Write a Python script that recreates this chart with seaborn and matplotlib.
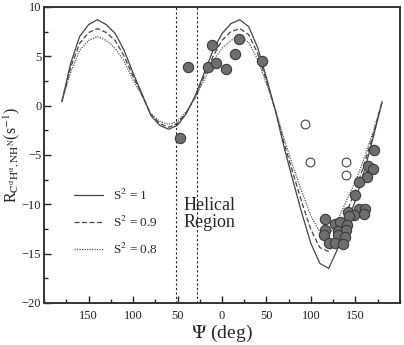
import numpy as np
import pandas as pd
import matplotlib
matplotlib.use('Agg')
import matplotlib.pyplot as plt
from matplotlib.ticker import MultipleLocator, FuncFormatter
import seaborn as sns

# theoretical curves, read every 10 deg
psi = list(range(-180, 181, 10))
r_s1 = [0.4, 4.3, 7.0, 8.2, 8.7, 8.2, 7.3, 5.6, 3.3, 1.2, -1.0, -2.0, -2.4, -2.0, -0.8,
        1.0, 3.3, 5.6, 7.3, 8.3, 8.7, 8.0, 5.9, 2.8, -0.5, -4.3, -7.7, -11.0, -14.0,
        -16.0, -16.5, -14.5, -12.0, -9.6, -6.6, -3.2, 0.4]
r_s09 = [0.4, 3.9, 6.3, 7.4, 7.8, 7.4, 6.6, 5.0, 3.0, 1.1, -0.9, -1.8, -2.2, -1.8, -0.7,
         0.9, 3.0, 5.0, 6.6, 7.5, 7.8, 7.2, 5.3, 2.5, -0.5, -3.9, -6.9, -9.9, -12.6,
         -14.4, -14.8, -13.0, -10.8, -8.6, -5.9, -2.9, 0.4]
r_s08 = [0.4, 3.4, 5.6, 6.6, 7.0, 6.6, 5.8, 4.5, 2.6, 1.0, -0.8, -1.6, -1.9, -1.6, -0.6,
         0.8, 2.6, 4.5, 5.8, 6.6, 7.0, 6.4, 4.7, 2.2, -0.4, -3.4, -6.2, -8.8, -11.2,
         -12.8, -13.2, -11.6, -9.6, -7.7, -5.3, -2.6, 0.4]

# measured rates (filled) and outliers (open)
psi_fill = [-38.6, -10.9, -16.2, -6.4, 4.5, 14.2, 18.7, 44.9, -47.2,
            170.7, 164.0, 169.7, 162.5, 154.3, 149.4, 141.5, 153.5, 160.2, 159.9,
            148.7, 143.0, 116.1, 126.5, 132.6, 140.0, 115.3, 114.2, 129.9, 139.3,
            130.7, 138.5, 120.6, 127.3, 135.5]
r_fill = [3.9, 6.1, 3.95, 4.35, 3.7, 5.2, 6.7, 4.55, -3.25,
          -4.55, -6.1, -6.4, -7.2, -7.7, -9.1, -10.8, -10.5, -10.5, -11.0,
          -11.1, -11.2, -11.45, -12.05, -11.85, -12.15, -12.65, -13.15, -12.75, -12.65,
          -13.15, -13.35, -13.9, -13.95, -14.0]
psi_open = [93.6, 98.5, 139.3, 138.9]
r_open = [-1.85, -5.7, -5.7, -7.0]

helix_bounds = [-52, -28]

sns.set_style('ticks')
plt.rcParams['font.family'] = ['Liberation Serif', 'DejaVu Serif']
plt.rcParams['mathtext.fontset'] = 'stix'

fig = plt.figure(figsize=(4.04, 3.45), dpi=100)
ax = fig.add_axes([0.109, 0.122, 0.881, 0.858])

curves = pd.DataFrame({'psi': psi * 3,
                       'R': r_s1 + r_s09 + r_s08,
                       'S2': ['S$^2$ = 1'] * len(psi) + ['S$^2$ = 0.9'] * len(psi) + ['S$^2$ = 0.8'] * len(psi)})
sns.lineplot(data=curves, x='psi', y='R', hue='S2', style='S2',
             palette=['#444444', '#444444', '#555555'],
             dashes=[(None, None), (4, 2), (1, 1)], linewidth=0.9, ax=ax)

for xv in helix_bounds:
    ax.axvline(xv, color='#222222', linestyle=(0, (2, 2)), linewidth=0.8)

sns.scatterplot(x=psi_fill, y=r_fill, color='#6e6e6e', edgecolor='#3a3a3a',
                linewidth=0.8, s=55, ax=ax, zorder=5, legend=False)
sns.scatterplot(x=psi_open, y=r_open, color='white', edgecolor='#444444',
                linewidth=0.8, s=40, ax=ax, zorder=5, legend=False)

ax.text(-43, -9.3, 'Helical\nRegion', fontsize=13, va='top', ha='left', linespacing=0.95)

ax.set_xlim(-200, 200)
ax.set_ylim(-20, 10)
ax.xaxis.set_major_locator(MultipleLocator(50))
ax.xaxis.set_minor_locator(MultipleLocator(25))
ax.yaxis.set_major_locator(MultipleLocator(5))
ax.yaxis.set_minor_locator(MultipleLocator(2.5))
ax.xaxis.set_major_formatter(FuncFormatter(lambda v, p: '' if abs(v) > 175 else f'{abs(int(round(v)))}'))
ax.set_xticks([-150, -100, -50, 0, 50, 100, 150])
ax.tick_params(which='both', direction='in', top=False, right=False, labelsize=9, colors='#222222')
ax.tick_params(which='major', length=5, width=1)
ax.tick_params(axis='x', which='major', pad=5)
ax.tick_params(axis='y', which='major', pad=2)
ax.tick_params(which='minor', length=3, width=1)
for sp in ax.spines.values():
    sp.set_visible(True)
    sp.set_linewidth(1.4)
    sp.set_color('#333333')

ax.set_xlabel(r'$\Psi$ (deg)', fontsize=14, labelpad=1)
ax.set_ylabel(r'R$_{\mathrm{C^{\alpha}H^{\alpha},NH^{N}}}$(s$^{-1}$)', fontsize=11.5, labelpad=0)
ax.yaxis.set_label_coords(-0.062, 0.5)

leg = ax.legend(loc='upper left', bbox_to_anchor=(0.05, 0.43), frameon=False, fontsize=9.5,
                handlelength=2.2, labelspacing=0.9, title=None)

fig.savefig('out.png', dpi=100)
